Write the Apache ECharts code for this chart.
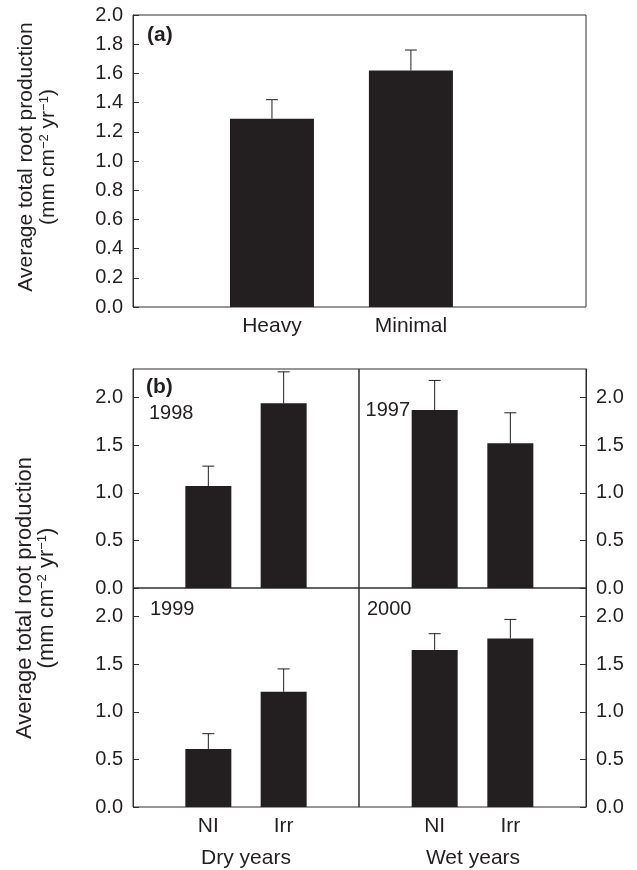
<!DOCTYPE html>
<html>
<head>
<meta charset="utf-8">
<script src="https://cdn.jsdelivr.net/npm/echarts@6/dist/echarts.min.js"></script>
<style>
html,body{margin:0;padding:0;background:#fff;}
#chart{width:637px;height:870px;}
</style>
</head>
<body>
<div id="chart"></div>
<script>
// ---- data ----
const panelACategories = ['Heavy', 'Minimal'];
const panelAMeans = [1.29, 1.62];
const panelASE = [0.13, 0.14];

const treatments = ['NI', 'Irr'];
const means1998 = [1.07, 1.94];
const se1998 = [0.21, 0.33];
const means1997 = [1.87, 1.52];
const se1997 = [0.31, 0.32];
const means1999 = [0.61, 1.21];
const se1999 = [0.16, 0.24];
const means2000 = [1.65, 1.77];
const se2000 = [0.17, 0.20];

const panelATicks = [0, 0.2, 0.4, 0.6, 0.8, 1.0, 1.2, 1.4, 1.6, 1.8, 2.0];
const panelBTicks = [0, 0.5, 1.0, 1.5, 2.0];

// ---- style ----
const FONT = '"Liberation Sans", Arial, Helvetica, sans-serif';
const INK = '#231f20';
const FRAME = '#2e2e2e';
const FS_TICK = 20;
const FS_CAT = 21;

const chart = echarts.init(document.getElementById('chart'), null, {renderer: 'canvas'});

const grids = [
  {left: 133, top: 15, width: 453, height: 292},
  {left: 133, top: 369, width: 226, height: 219},
  {left: 359, top: 369, width: 227, height: 219},
  {left: 133, top: 588, width: 226, height: 219},
  {left: 359, top: 588, width: 227, height: 219}
].map(g => Object.assign({show: true, borderColor: FRAME, borderWidth: 1, backgroundColor: 'transparent', containLabel: false}, g));

function xAxis(gi, max, cats) {
  return {
    type: 'value', gridIndex: gi, min: 0, max: max, interval: 1, position: 'bottom',
    axisLine: {show: false, onZero: false}, axisTick: {show: false}, splitLine: {show: false},
    axisLabel: cats ? {
      show: true, customValues: [1, 2], margin: 9,
      formatter: v => cats[Math.round(v) - 1] || '',
      fontFamily: FONT, fontSize: FS_CAT, color: INK
    } : {show: false}
  };
}
function yAxis(gi, max, interval, ticks, pos) {
  return {
    type: 'value', gridIndex: gi, min: 0, max: max, interval: interval, position: pos,
    axisLine: {show: true, onZero: false, lineStyle: {color: FRAME, width: 1}},
    splitLine: {show: false},
    axisTick: {show: true, inside: true, length: 6, customValues: ticks, lineStyle: {color: FRAME, width: 1}},
    axisLabel: {show: true, customValues: ticks, margin: 10, formatter: v => v.toFixed(1),
      fontFamily: FONT, fontSize: FS_TICK, color: INK}
  };
}

const xAxes = [
  xAxis(0, 3.26, panelACategories),
  xAxis(1, 3, null),
  xAxis(2, 3, null),
  xAxis(3, 3, treatments),
  xAxis(4, 3, treatments)
];
const yAxes = [
  yAxis(0, 2.0, 0.2, panelATicks, 'left'),
  yAxis(1, 2.3, 0.5, panelBTicks, 'left'),
  yAxis(2, 2.3, 0.5, panelBTicks, 'right'),
  yAxis(3, 2.3, 0.5, panelBTicks, 'left'),
  yAxis(4, 2.3, 0.5, panelBTicks, 'right')
];

function barSeries(gi, means, width) {
  return {
    type: 'bar', xAxisIndex: gi, yAxisIndex: gi, barWidth: width,
    data: means.map((v, i) => [i + 1, v]),
    itemStyle: {color: INK}, silent: true, animation: false
  };
}
function errSeries(gi, means, se) {
  return {
    type: 'custom', xAxisIndex: gi, yAxisIndex: gi, silent: true, animation: false, z: 5,
    encode: {x: 0, y: [1, 2]},
    data: means.map((v, i) => [i + 1, v, v + se[i]]),
    renderItem: function (params, api) {
      const x = api.value(0);
      const p0 = api.coord([x, api.value(1)]);
      const p1 = api.coord([x, api.value(2)]);
      const cap = 6;
      const st = {stroke: INK, lineWidth: 1};
      return {
        type: 'group',
        children: [
          {type: 'line', shape: {x1: p0[0], y1: p0[1], x2: p1[0], y2: p1[1]}, style: st},
          {type: 'line', shape: {x1: p1[0] - cap, y1: p1[1], x2: p1[0] + cap, y2: p1[1]}, style: st}
        ]
      };
    }
  };
}

const series = [
  barSeries(0, panelAMeans, 84), errSeries(0, panelAMeans, panelASE),
  barSeries(1, means1998, 46), errSeries(1, means1998, se1998),
  barSeries(2, means1997, 46), errSeries(2, means1997, se1997),
  barSeries(3, means1999, 46), errSeries(3, means1999, se1999),
  barSeries(4, means2000, 46), errSeries(4, means2000, se2000)
];

function txt(x, y, text, size, extra) {
  return {
    type: 'text', x: x, y: y, silent: true,
    style: Object.assign({text: text, font: size + 'px ' + FONT, fill: INK, textAlign: 'left', textVerticalAlign: 'middle'}, extra || {})
  };
}
function yTitle(cx1, cx2, cy, fs) {
  return [
    {type: 'text', x: cx1, y: cy, rotation: Math.PI / 2, silent: true,
      style: {text: 'Average total root production', font: fs + 'px ' + FONT, fill: INK, textAlign: 'center', textVerticalAlign: 'middle'}},
    {type: 'text', x: cx2, y: cy, rotation: Math.PI / 2, silent: true,
      style: {text: '(mm cm{sup|−2} yr{sup|−1})', font: fs + 'px ' + FONT, fill: INK, textAlign: 'center', textVerticalAlign: 'middle',
        rich: {sup: {fontSize: 13, fontFamily: FONT, verticalAlign: 'top', fill: INK}}}}
  ];
}

const graphic = [
  txt(147, 35, '(a)', 21, {font: 'bold 21px ' + FONT}),
  txt(146, 387, '(b)', 21, {font: 'bold 21px ' + FONT}),
  txt(149, 413, '1998', 20),
  txt(410, 410, '1997', 20, {textAlign: 'right'}),
  txt(150, 609, '1999', 20),
  txt(367, 609, '2000', 20),
  txt(246, 858, 'Dry years', FS_CAT, {textAlign: 'center'}),
  txt(473, 858, 'Wet years', FS_CAT, {textAlign: 'center'})
].concat(yTitle(26, 48, 157, 21), yTitle(25, 47, 598, 22));

chart.setOption({
  animation: false,
  backgroundColor: '#fff',
  textStyle: {fontFamily: FONT},
  grid: grids,
  xAxis: xAxes,
  yAxis: yAxes,
  series: series,
  graphic: graphic
});
</script>
</body>
</html>
